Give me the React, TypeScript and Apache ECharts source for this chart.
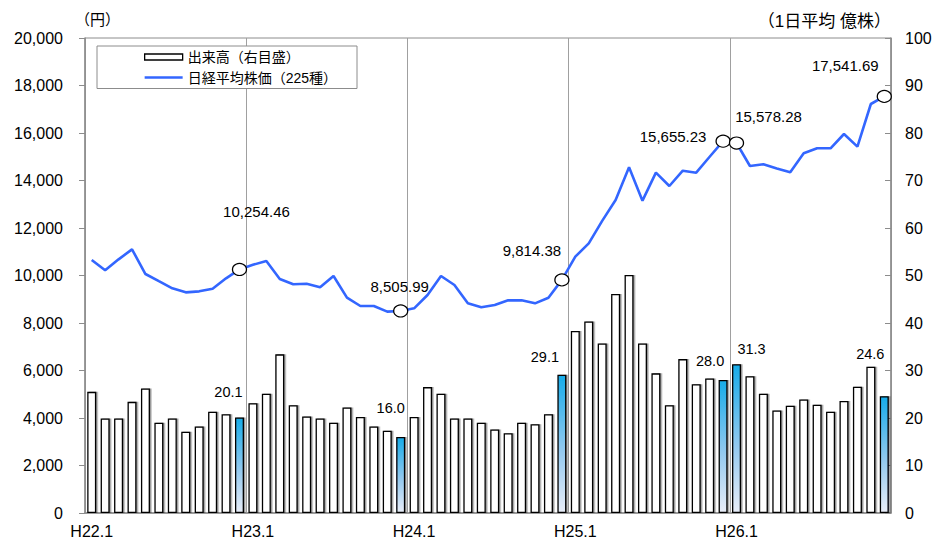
import React, { useEffect, useRef } from 'react';
import * as echarts from 'echarts';

// ---- data ----
const eraYears = ['H22', 'H23', 'H24', 'H25', 'H26'];
const monthNumbers = [1, 2, 3, 4, 5, 6, 7, 8, 9, 10, 11, 12];
const categories = eraYears.flatMap((y) => monthNumbers.map((m) => `${y}.${m}`));

// 出来高 (1日平均 億株)
const volumeH22 = [25.5, 19.9, 19.9, 23.4, 26.2, 19.0, 19.9, 17.1, 18.2, 21.3, 20.8, 20.1];
const volumeH23 = [23.1, 25.1, 33.4, 22.7, 20.3, 19.9, 19.0, 22.2, 20.2, 18.2, 17.3, 16.0];
const volumeH24 = [20.2, 26.5, 25.1, 19.9, 19.9, 19.0, 17.6, 16.8, 19.0, 18.7, 20.8, 29.1];
const volumeH25 = [38.3, 40.3, 35.7, 46.1, 50.1, 35.7, 29.4, 22.7, 32.4, 27.1, 28.3, 28.0];
const volumeH26 = [31.3, 28.8, 25.1, 21.6, 22.6, 23.9, 22.8, 21.3, 23.6, 26.6, 30.8, 24.6];
const volume = [...volumeH22, ...volumeH23, ...volumeH24, ...volumeH25, ...volumeH26];

// 日経平均株価 (円)
const nikkeiH22 = [10653, 10218, 10680, 11101, 10063, 9760, 9460, 9291, 9333, 9446, 9881, 10254.46];
const nikkeiH23 = [10450, 10611, 9853, 9629, 9650, 9503, 9979, 9066, 8716, 8716, 8477, 8505.99];
const nikkeiH24 = [8617, 9179, 9979, 9600, 8828, 8660, 8758, 8954, 8954, 8828, 9066, 9814.38];
const nikkeiH25 = [10793, 11355, 12300, 13179, 14554, 13151, 14330, 13768, 14414, 14330, 15000, 15655.23];
const nikkeiH26 = [15578.28, 14611, 14682, 14505, 14345, 15144, 15355, 15355, 15958, 15425, 17221, 17541.69];
const nikkei = [...nikkeiH22, ...nikkeiH23, ...nikkeiH24, ...nikkeiH25, ...nikkeiH26];

const highlightIndex = [11, 23, 35, 47, 48, 59];

const leftTicks = { min: 0, max: 20000, interval: 2000 };
const rightTicks = { min: 0, max: 100, interval: 10 };

const volumeName = '出来高（右目盛）';
const nikkeiName = '日経平均株価（225種）';

// ---- styling (label placement) ----
const barLabelOffset: Record<number, [number, number]> = {
  11: [-11, -13.5],
  23: [-10, -17],
  35: [-17, -6],
  47: [-13, -6.5],
  48: [15, -3],
  59: [-14, -29.5],
};
const lineLabelOffset: Record<number, [number, number]> = {
  11: [17, -57.5],
  23: [-1, -24.5],
  35: [-30, -29],
  47: [-50, -5],
  48: [32, -27],
  59: [-39, -31],
};

const FONT = "'Liberation Sans', 'Noto Sans CJK JP', sans-serif";
const LINE_COLOR = '#3366FF';

export default function App() {
  const ref = useRef<HTMLDivElement>(null);

  useEffect(() => {
    if (!ref.current) return;
    const chart = echarts.init(ref.current, undefined, { renderer: 'svg' });

    const blueGradient = new echarts.graphic.LinearGradient(0, 0, 0, 1, [
      { offset: 0, color: '#17ACE9' },
      { offset: 0.55, color: '#93C9EF' },
      { offset: 1, color: '#E8EDF8' },
    ]);

    const barData = volume.map((v, i) =>
      highlightIndex.includes(i)
        ? {
            value: v,
            itemStyle: { color: blueGradient },
            label: {
              show: true,
              position: 'top',
              offset: barLabelOffset[i],
              formatter: (p: any) => Number(p.value).toFixed(1),
              color: '#000',
              fontSize: 14.5,
              fontFamily: FONT,
            },
          }
        : v
    );

    const lineData = nikkei.map((v, i) =>
      highlightIndex.includes(i)
        ? {
            value: v,
            symbol: 'circle',
            symbolSize: [14, 12],
            itemStyle: { color: '#fff', borderColor: '#000', borderWidth: 1.2 },
            label: {
              show: true,
              position: 'inside',
              offset: lineLabelOffset[i],
              formatter: (p: any) =>
                Number(p.value).toLocaleString('en-US', {
                  minimumFractionDigits: 2,
                  maximumFractionDigits: 2,
                }),
              color: '#000',
              fontSize: 15,
              fontFamily: FONT,
              textBorderWidth: 0,
            },
          }
        : v
    );

    chart.setOption({
      animation: false,
      backgroundColor: '#fff',
      textStyle: { fontFamily: FONT },
      grid: {
        left: 85,
        right: 44,
        top: 38,
        bottom: 27,
        show: true,
        borderColor: '#8c8c8c',
        borderWidth: 1,
        backgroundColor: 'transparent',
      },
      legend: {
        left: 97,
        top: 46,
        orient: 'vertical',
        padding: [3.5, 20, 3.5, 47],
        itemGap: 5.5,
        itemWidth: 38,
        itemHeight: 6,
        borderColor: '#8c8c8c',
        borderWidth: 1,
        backgroundColor: '#fff',
        textStyle: { color: '#000', fontSize: 14, lineHeight: 15, fontFamily: FONT },
        data: [
          {
            name: volumeName,
            icon: 'rect',
            itemStyle: {
              color: '#fff',
              borderColor: '#000',
              borderWidth: 1.3,
              shadowColor: 'transparent',
              shadowBlur: 0,
              shadowOffsetX: 0,
            },
          },
          {
            name: nikkeiName,
            icon: 'path://M0,0H38V2.6H0Z',
            itemStyle: { color: LINE_COLOR, borderWidth: 0 },
          },
        ],
      },
      graphic: [
        {
          type: 'text',
          left: 75,
          top: 12,
          style: { text: '（円）', fontSize: 15, fill: '#000', fontFamily: FONT },
        },
        {
          type: 'text',
          right: 44,
          top: 13,
          style: { text: '（1日平均 億株）', fontSize: 17, fill: '#000', fontFamily: FONT },
        },
      ],
      xAxis: {
        type: 'category',
        data: categories,
        boundaryGap: true,
        axisLine: { show: true, lineStyle: { color: '#8c8c8c', width: 1.5 } },
        axisTick: { show: false },
        axisLabel: { interval: 11, margin: 10, color: '#000', fontSize: 16, fontFamily: FONT },
        splitLine: { show: true, interval: 11, lineStyle: { color: '#a0a0a0', width: 1 } },
      },
      yAxis: [
        {
          type: 'value',
          min: leftTicks.min,
          max: leftTicks.max,
          interval: leftTicks.interval,
          axisLine: { show: true, lineStyle: { color: '#8c8c8c', width: 1.5 } },
          axisTick: { show: true, length: 6, lineStyle: { color: '#8c8c8c' } },
          splitLine: { show: false },
          axisLabel: {
            margin: 22,
            color: '#000',
            fontSize: 16,
            fontFamily: FONT,
            formatter: (v: number) => v.toLocaleString('en-US'),
          },
        },
        {
          type: 'value',
          min: rightTicks.min,
          max: rightTicks.max,
          interval: rightTicks.interval,
          position: 'right',
          axisLine: { show: true, lineStyle: { color: '#8c8c8c', width: 1.5 } },
          axisTick: { show: true, inside: true, length: 6, lineStyle: { color: '#8c8c8c' } },
          splitLine: { show: false },
          axisLabel: { margin: 14, color: '#000', fontSize: 16, fontFamily: FONT },
        },
      ],
      series: [
        {
          name: volumeName,
          type: 'bar',
          yAxisIndex: 1,
          barWidth: 9,
          data: barData,
          itemStyle: {
            color: '#fff',
            borderColor: '#000',
            borderWidth: 1.3,
            shadowColor: 'rgba(0,0,0,0.4)',
            shadowBlur: 1,
            shadowOffsetX: 1.5,
            shadowOffsetY: 0,
          },
          z: 2,
        },
        {
          name: nikkeiName,
          type: 'line',
          yAxisIndex: 0,
          data: lineData,
          symbol: 'none',
          showAllSymbol: true,
          lineStyle: { color: LINE_COLOR, width: 2.6 },
          itemStyle: { color: LINE_COLOR },
          z: 3,
        },
      ],
    });

    return () => {
      chart.dispose();
    };
  }, []);

  return (
    <div
      ref={ref}
      style={{ position: 'fixed', left: 0, top: 0, width: 935, height: 540, background: '#fff' }}
    />
  );
}
